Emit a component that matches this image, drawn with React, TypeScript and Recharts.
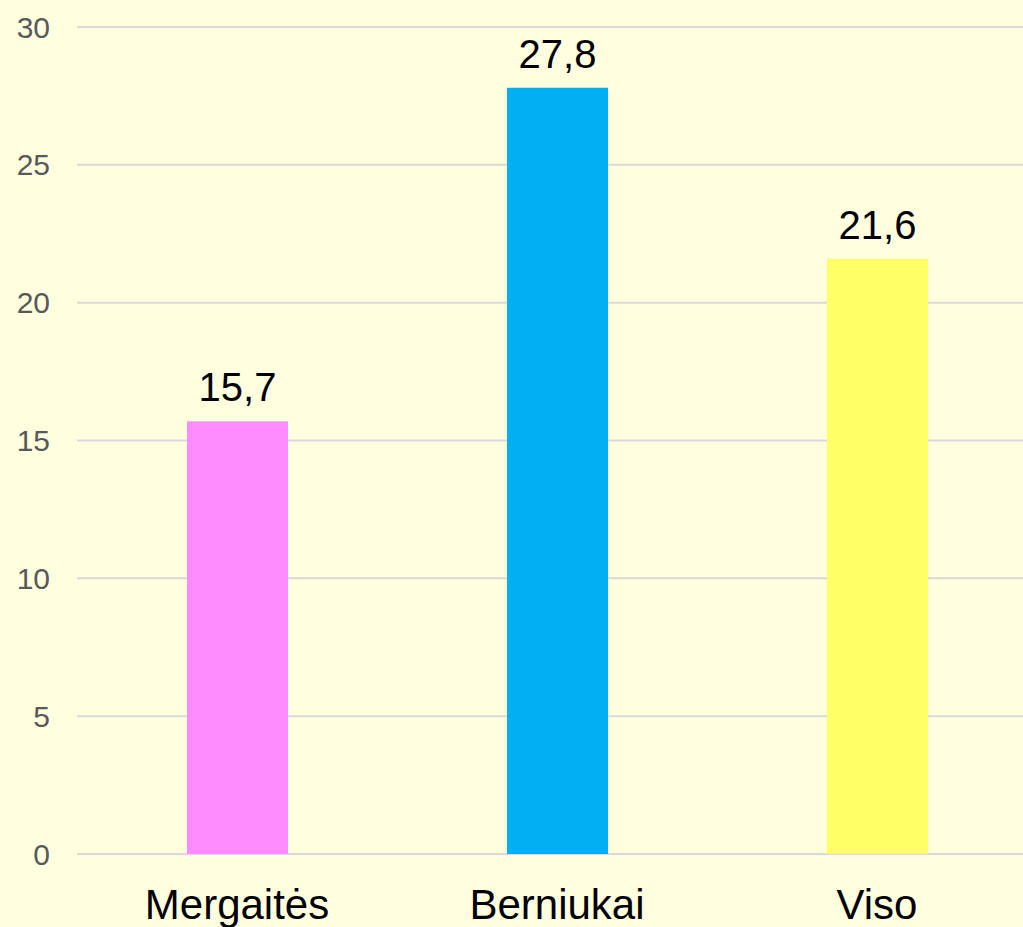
import { BarChart, Bar, XAxis, YAxis, CartesianGrid, Cell, LabelList } from 'recharts';

const categories = ['Mergaitės', 'Berniukai', 'Viso'];
const values = [15.7, 27.8, 21.6];
const yTicks = [0, 5, 10, 15, 20, 25, 30];

const BAR_COLORS = ['#FF8CFF', '#00B0F0', '#FFFF66'];
const FONT = '"Liberation Sans", Arial, sans-serif';

const data = categories.map((name, i) => ({ name, value: values[i] }));

export default function App() {
  return (
    <div
      style={{
        position: 'fixed',
        left: 0,
        top: 0,
        width: 1023,
        height: 927,
        overflow: 'hidden',
        background: '#FFFFE0',
        fontFamily: FONT,
      }}
    >
      <BarChart
        width={1040}
        height={927}
        data={data}
        margin={{ top: 27, right: 3, bottom: 0, left: 0 }}
      >
        <CartesianGrid vertical={false} stroke="#D9D9D9" strokeWidth={2} />
        <XAxis
          dataKey="name"
          axisLine={false}
          tickLine={false}
          tickSize={0}
          tickMargin={35}
          height={73}
          interval={0}
          tick={{ fontSize: 42, fill: '#000000', fontFamily: FONT }}
        />
        <YAxis
          width={77}
          domain={[0, 30]}
          ticks={yTicks}
          axisLine={false}
          tickLine={false}
          tickSize={0}
          tickMargin={27}
          tick={{ fontSize: 30, fill: '#595959', fontFamily: FONT }}
        />
        <Bar dataKey="value" barSize={101} isAnimationActive={false}>
          {data.map((d, i) => (
            <Cell key={d.name} fill={BAR_COLORS[i]} />
          ))}
          <LabelList
            dataKey="value"
            position="top"
            offset={20}
            formatter={(v: number) => String(v).replace('.', ',')}
            style={{ fontSize: 40, fill: '#000000', fontFamily: FONT }}
          />
        </Bar>
      </BarChart>
    </div>
  );
}
